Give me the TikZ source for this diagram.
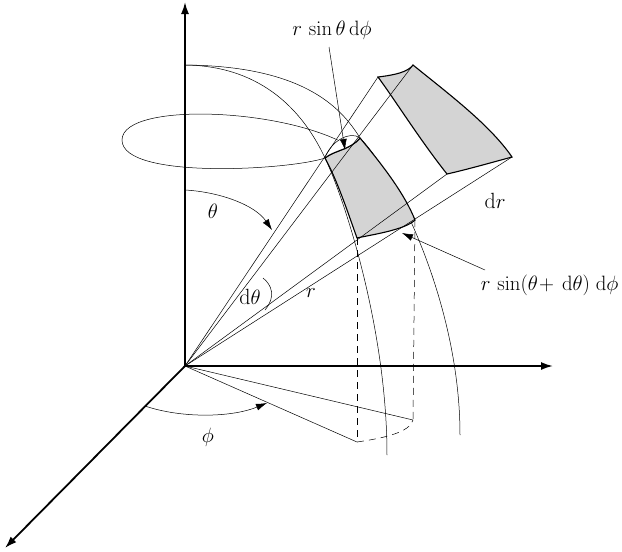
\documentclass[tikz,border=0pt]{standalone}
\usetikzlibrary{arrows.meta}
\begin{document}
\begin{tikzpicture}[x=1pt,y=-1pt,
 axis/.style={line width=1.8pt,-{Latex[length=12pt,width=8pt]}},
 thin/.style={line width=0.5pt},
 patch/.style={fill=black!17,line width=1.1pt},
 arr/.style={line width=0.5pt,-{Latex[length=11pt,width=7pt]}},
 lab/.style={font=\fontsize{22}{26}\selectfont}]
\useasboundingbox (0,0) rectangle (622,552);
\coordinate (O) at (185,366);
\coordinate (ztop) at (185,2);
\coordinate (xend) at (553,366);
\coordinate (yend) at (5,548);
\coordinate (zp) at (185,65);
\coordinate (F1) at (378,77); \coordinate (F2) at (413,65);
\coordinate (F3) at (512,157); \coordinate (F4) at (447,174);
\coordinate (N1) at (325,158); \coordinate (N2) at (360,138);
\coordinate (N3) at (415,220); \coordinate (N4) at (357,238);
% meridian arcs
\draw[thin] (zp) .. controls (265,66) and (305,115) .. (N1) .. controls (345,200) and (387,330) .. (387,455);
\draw[thin] (zp) .. controls (300,66) and (340,105) .. (N2) .. controls (392,170) and (460,300) .. (460,435);
% ellipse
\draw[thin] (358,152) .. controls (300,108) and (122,100) .. (122,140) .. controls (122,180) and (290,170) .. (325,158);
% patches
\draw[patch] (F1) .. controls (395,75) and (408,72) .. (F2) .. controls (450,95) and (490,125) .. (F3) .. controls (490,163) and (465,170) .. (F4) .. controls (420,140) and (395,100) .. cycle;
\draw[patch] (N1) .. controls (335,150) and (350,150) .. (N2) .. controls (385,168) and (405,195) .. (N3) .. controls (405,230) and (370,235) .. (N4) .. controls (347,210) and (337,180) .. cycle;
\fill[white] (N1) .. controls (335,150) and (350,150) .. (N2) .. controls (350,130) and (330,140) .. cycle;
\draw[line width=1.1pt] (N1) .. controls (335,150) and (350,150) .. (N2);
\draw[thin] (N1) .. controls (330,142) and (350,130) .. (N2);
% rays
\draw[thin] (O) -- (F1);
\draw[thin] (O) -- (F2);
\draw[thin] (O) -- (F3);
\draw[thin] (O) -- (F4);
% dashed verticals and base
\coordinate (B1) at (357,442); \coordinate (B2) at (413,420);
\draw[thin,dash pattern=on 7pt off 5pt] (N4) -- (B1);
\draw[thin,dash pattern=on 7pt off 5pt] (N3) -- (B2);
\draw[thin,dash pattern=on 7pt off 5pt] (B1) .. controls (385,438) and (410,432) .. (B2);
\draw[thin] (O) -- (B1);
\draw[thin] (O) -- (B2);
% axes
\draw[axis] (O) -- (ztop);
\draw[axis] (O) -- (xend);
\draw[axis] (O) -- (yend);
% angles
\draw[arr] (185,190) .. controls (220,192) and (255,205) .. (272,230);
\node[lab] (th) at (213,211) {$\theta$};
\draw[thin] (263,278) .. controls (272,285) and (276,297) .. (265,310);
\node[lab] (dth) at (250,297) {d$\theta$};
\draw[arr] (145,406) .. controls (180,418) and (230,418) .. (267,403);
\node[lab] (ph) at (208,437) {$\phi$};
\node[lab] (r) at (311,293) {$r$};
\node[lab] (dr) at (495,201) {d$r$};
% labels with leaders
\node[lab] (t1) at (332,30) {$r\,\sin\theta\,\mathrm{d}\phi$};
\coordinate (t1a) at (345,150);
\draw[arr] (329,47) -- (t1a);
\node[lab,anchor=east] (t2) at (622,285) {$r\,\sin(\theta\!+\,\mathrm{d}\theta)\;\mathrm{d}\phi$};
\coordinate (t2a) at (402,233);
\draw[arr] (485,270) -- (t2a);
\end{tikzpicture}
\end{document}
